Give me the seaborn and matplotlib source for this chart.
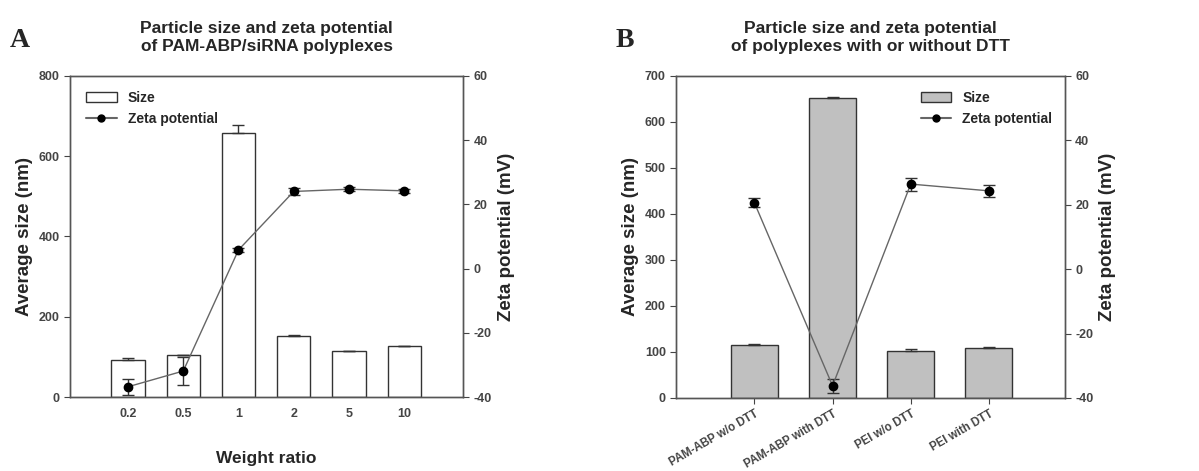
import numpy as np
import seaborn as sns
import matplotlib.pyplot as plt
from matplotlib.lines import Line2D
from matplotlib.patches import Patch

# Panel A data
ratios = ['0.2', '0.5', '1', '2', '5', '10']
size_a = [92, 105, 657, 152, 114, 128]
size_a_err = [6, 0, 21, 3, 0, 0]
zeta_a = [-36.8, -31.9, 5.8, 24.0, 24.7, 24.2]
zeta_a_err = [2.5, 4.5, 0.5, 1.0, 0.6, 0.6]

# Panel B data
groups = ['PAM-ABP w/o DTT', 'PAM-ABP with DTT', 'PEI w/o DTT', 'PEI with DTT']
size_b = [115, 651, 103, 109]
size_b_err = [2, 4, 3, 2]
zeta_b = [20.6, -36.2, 26.4, 24.3]
zeta_b_err = [1.4, 2.2, 2.0, 1.8]

sns.set_theme(style="ticks")
plt.rcParams['font.family'] = ['Liberation Sans Narrow', 'Liberation Sans', 'DejaVu Sans']
plt.rcParams['font.weight'] = 'bold'
plt.rcParams['axes.unicode_minus'] = False

spine_col = '#555555'
tick_col = '#444444'
label_font = ['Liberation Sans', 'DejaVu Sans']

fig = plt.figure(figsize=(11.99, 4.71), dpi=100)
ax_a = fig.add_axes([0.0584, 0.157, 0.328, 0.682])
ax_b = fig.add_axes([0.564, 0.155, 0.324, 0.684])


def style_axes(ax, ax2):
    for a in (ax, ax2):
        for s in a.spines.values():
            s.set_color(spine_col)
            s.set_linewidth(1.0)
        a.tick_params(colors=tick_col, labelsize=9, length=4, width=0.8)
        for lab in a.get_yticklabels():
            lab.set_fontweight('bold')


def draw_panel(ax, cats, sizes, size_err, zeta, zeta_err, bar_color, ymax, xlim):
    sns.barplot(x=cats, y=sizes, ax=ax, color=bar_color, edgecolor='#333333',
                linewidth=1.0, width=0.6, errorbar=None, saturation=1)
    pos = np.arange(len(cats))
    ax.errorbar(pos, sizes, yerr=[np.zeros(len(cats)), size_err], fmt='none',
                ecolor='#333333', elinewidth=1, capsize=4)
    ax.set_xlim(*xlim)
    ax.set_ylim(0, ymax)
    ax2 = ax.twinx()
    ax2.errorbar(pos, zeta, yerr=zeta_err, fmt='-o', color='#666666', mfc='black',
                 mec='black', ms=6, lw=1.0, ecolor='#333333', elinewidth=1, capsize=4)
    ax2.set_ylim(-40, 60)
    ax2.set_yticks([-40, -20, 0, 20, 40, 60])
    ax2.set_ylabel('Zeta potential (mV)', fontsize=13.5, fontweight='bold',
                   family=label_font)
    ax.set_ylabel('Average size (nm)', fontsize=13.5, fontweight='bold',
                  family=label_font)
    style_axes(ax, ax2)
    return ax2


# Panel A
ax2_a = draw_panel(ax_a, ratios, size_a, size_a_err, zeta_a, zeta_a_err,
                   'white', 800, (-1.05, 6.07))
ax_a.set_yticks([0, 200, 400, 600, 800])
ax_a.tick_params(axis='x', length=0, pad=8)
for lab in ax_a.get_xticklabels():
    lab.set_fontweight('bold')
ax_a.set_xlabel('Weight ratio', fontsize=12.5, fontweight='bold', labelpad=22,
                family=label_font)
ax_a.set_title('Particle size and zeta potential\nof PAM-ABP/siRNA polyplexes',
               fontsize=12.5, fontweight='bold', pad=18, family=label_font)
handles = [Patch(facecolor='white', edgecolor='#333333', label='Size'),
           Line2D([0], [0], color='#666666', marker='o', mfc='black', mec='black',
                  ms=5, label='Zeta potential')]
ax_a.legend(handles=handles, loc='upper left', frameon=False, fontsize=10,
            bbox_to_anchor=(0.02, 0.98), handlelength=2.2, borderaxespad=0.2)

# Panel B
ax2_b = draw_panel(ax_b, groups, size_b, size_b_err, zeta_b, zeta_b_err,
                   '#c0c0c0', 700, (-1.0, 3.97))
ax_b.set_yticks([0, 100, 200, 300, 400, 500, 600, 700])
ax_b.set_xlabel('')
plt.setp(ax_b.get_xticklabels(), rotation=30, ha='right', rotation_mode='anchor',
         fontweight='bold', fontsize=8.3)
ax_b.set_title('Particle size and zeta potential\nof polyplexes with or without DTT',
               fontsize=12.5, fontweight='bold', pad=18, family=label_font)
handles_b = [Patch(facecolor='#c0c0c0', edgecolor='#333333', label='Size'),
             Line2D([0], [0], color='#666666', marker='o', mfc='black', mec='black',
                    ms=5, label='Zeta potential')]
ax_b.legend(handles=handles_b, loc='upper right', frameon=False, fontsize=10,
            bbox_to_anchor=(0.99, 0.98), handlelength=2.2, borderaxespad=0.2)

# Panel letters
fig.text(0.008, 0.90, 'A', fontsize=20, fontweight='bold',
         family=['Liberation Serif', 'DejaVu Serif'])
fig.text(0.513, 0.90, 'B', fontsize=20, fontweight='bold',
         family=['Liberation Serif', 'DejaVu Serif'])

fig.savefig('out.png', dpi=100)
